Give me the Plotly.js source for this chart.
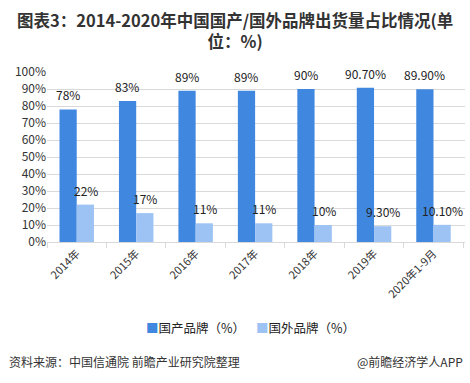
<!DOCTYPE html>
<html><head><meta charset="utf-8">
<script src="https://cdn.plot.ly/plotly-3.0.1.min.js"></script>
<style>html,body{margin:0;padding:0;background:#fff}#c{width:470px;height:383px}</style>
</head><body><div id="c"></div>
<script>
const categories = ['2014年','2015年','2016年','2017年','2018年','2019年','2020年1-9月'];
const domestic = [78, 83, 89, 89, 90, 90.7, 89.9];
const foreign = [22, 17, 11, 11, 10, 9.3, 10.1];
const domesticLabels = ['78%','83%','89%','89%','90%','90.70%','89.90%'];
const foreignLabels = ['22%','17%','11%','11%','10%','9.30%','10.10%'];
const seriesNames = ['国产品牌（%）','国外品牌（%）'];
const yTicks = [0,10,20,30,40,50,60,70,80,90,100];
const yTickText = yTicks.map(v => v + '%');

const FONT = '"Microsoft YaHei","Noto Sans CJK SC","Noto Sans",sans-serif';
const DARK = '#4087e0', LIGHT = '#9dc3f4';

const traces = [
  {type:'bar', name:seriesNames[0], x:categories, y:domestic, marker:{color:DARK}, hoverinfo:'none'},
  {type:'bar', name:seriesNames[1], x:categories, y:foreign, marker:{color:LIGHT}, hoverinfo:'none'}
];

const annotations = [];
categories.forEach((c,i)=>{
  annotations.push({x:c, y:domestic[i], xref:'x', yref:'y', text:domesticLabels[i], showarrow:false,
    xshift:-9, yshift:4, yanchor:'bottom', font:{size:12, color:'#222', family:FONT}});
  annotations.push({x:c, y:foreign[i], xref:'x', yref:'y', text:foreignLabels[i], showarrow:false,
    xshift:9, yshift:4, yanchor:'bottom', font:{size:12, color:'#222', family:FONT}});
});
annotations.push({xref:'paper', yref:'paper', x:0.45, y:1.0 + 41.5/170, xanchor:'center', yanchor:'middle', showarrow:false,
  align:'center',
  text:'<b>图表3：2014-2020年中国国产/国外品牌出货量占比情况(单<br>位：%)</b>', font:{size:16.5, color:'#333', family:FONT}});
// legend built as text so the square sits right next to its label
[[seriesNames[0], DARK, 0.232],[seriesNames[1], LIGHT, 0.495]].forEach(([name,col,x])=>{
  annotations.push({xref:'paper', yref:'paper', x:x, y:-0.5, xanchor:'left', yanchor:'middle', showarrow:false,
    text:'<span style="color:'+col+'">■</span>'+name, font:{size:12.5, color:'#222', family:FONT}});
});
annotations.push({xref:'paper', yref:'paper', x:-0.095, y:-0.705, xanchor:'left', yanchor:'middle', showarrow:false,
  text:'资料来源：中国信通院 前瞻产业研究院整理', font:{size:12, color:'#333', family:FONT}});
annotations.push({xref:'paper', yref:'paper', x:1.0, y:-0.705, xanchor:'right', yanchor:'middle', showarrow:false,
  text:'@前瞻经济学人APP', font:{size:12, color:'#333', family:FONT}});

const layout = {
  width:470, height:383,
  margin:{l:47, r:5, t:72, b:141},
  paper_bgcolor:'#fff', plot_bgcolor:'#fff',
  font:{family:FONT, color:'#333'},
  barmode:'group', bargap:0.42, bargroupgap:0,
  showlegend:false,
  xaxis:{type:'category', tickangle:-45, tickfont:{size:11, color:'#333'}, showline:true, linecolor:'#d9d9d9',
    ticks:'outside', tickson:'boundaries', ticklen:5, tickcolor:'#d9d9d9', showgrid:false, fixedrange:true},
  yaxis:{range:[0,100], tickvals:yTicks, ticktext:yTickText, tickfont:{size:12, color:'#333'}, showgrid:true,
    gridcolor:'#d9d9d9', gridwidth:1, zeroline:false, showline:false, ticks:'', fixedrange:true},
  annotations:annotations
};
Plotly.newPlot('c', traces, layout, {displayModeBar:false, staticPlot:true});
</script></body></html>
